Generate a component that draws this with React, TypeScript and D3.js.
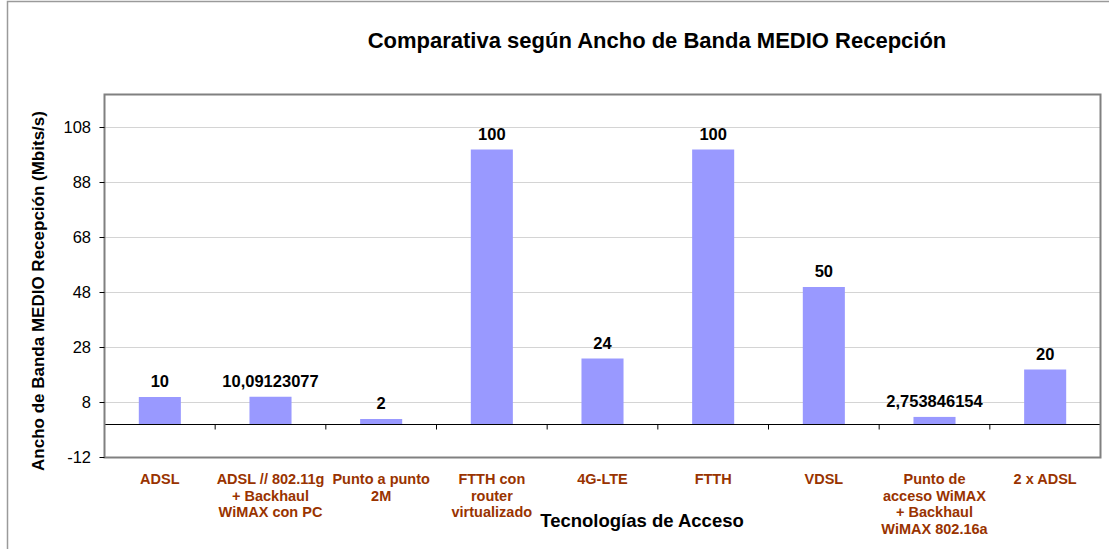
import React from "react";
import * as d3 from "d3";

const categories: string[][] = [
  ["ADSL"],
  ["ADSL // 802.11g", "+ Backhaul", "WiMAX con PC"],
  ["Punto a punto", "2M"],
  ["FTTH con", "router", "virtualizado"],
  ["4G-LTE"],
  ["FTTH"],
  ["VDSL"],
  ["Punto de", "acceso WiMAX", "+ Backhaul", "WiMAX 802.16a"],
  ["2 x ADSL"],
];
const values = [10, 10.09123077, 2, 100, 24, 100, 50, 2.753846154, 20];
const yTicks = [-12, 8, 28, 48, 68, 88, 108];

const title = "Comparativa según Ancho de Banda MEDIO Recepción";
const xTitle = "Tecnologías de Acceso";
const yTitle = "Ancho de Banda MEDIO Recepción (Mbits/s)";

export default function App() {
  const width = 1109;
  const height = 549;
  const plot = { left: 104.5, right: 1100.5, top: 94.5, bottom: 457.5 };
  const font = "'Liberation Sans', Arial, sans-serif";

  const x = d3
    .scaleBand<number>()
    .domain(values.map((_, i) => i))
    .range([plot.left, plot.right]);
  const y = d3.scaleLinear().domain([-12, 120]).range([plot.bottom, plot.top]);
  const barW = x.bandwidth() * 0.38;
  const zero = y(0);

  return (
    <svg
      width={width}
      height={height}
      style={{ position: "absolute", left: 0, top: 0, display: "block" }}
    >
      <rect width={width} height={height} fill="#fff" />
      {/* outer chart frame, only left and top edges show */}
      <path d={`M7.5,${height} V1.5 H${width}`} fill="none" stroke="#9a9a9a" strokeWidth={1.5} />

      <text
        x={657}
        y={48}
        textAnchor="middle"
        fontFamily={font}
        fontWeight="bold"
        fontSize={22}
      >
        {title}
      </text>

      {/* gridlines */}
      {yTicks.map((t) => (
        <line
          key={t}
          x1={plot.left}
          x2={plot.right}
          y1={y(t)}
          y2={y(t)}
          stroke="#d4d4d4"
          strokeWidth={1}
        />
      ))}

      {/* bars */}
      {values.map((v, i) => (
        <rect
          key={i}
          x={x(i)! + (x.bandwidth() - barW) / 2}
          y={y(Math.max(v, 0))}
          width={barW}
          height={Math.abs(y(v) - zero)}
          fill="#9999FF"
        />
      ))}

      {/* value labels */}
      {values.map((v, i) => (
        <text
          key={i}
          x={x(i)! + x.bandwidth() / 2}
          y={y(v) - 10}
          textAnchor="middle"
          fontFamily={font}
          fontWeight="bold"
          fontSize={16.5}
          fill="#000"
        >
          {String(v).replace(".", ",")}
        </text>
      ))}

      {/* zero line and category ticks */}
      <line x1={plot.left} x2={plot.right} y1={zero} y2={zero} stroke="#000" strokeWidth={1.2} />
      {values.map((_, i) =>
        i === 0 ? null : (
          <line
            key={i}
            x1={x(i)!}
            x2={x(i)!}
            y1={zero}
            y2={zero + 5}
            stroke="#000"
            strokeWidth={1}
          />
        )
      )}

      {/* plot frame */}
      <rect
        x={plot.left}
        y={plot.top}
        width={plot.right - plot.left}
        height={plot.bottom - plot.top}
        fill="none"
        stroke="#808080"
        strokeWidth={2}
      />

      {/* y axis ticks and labels */}
      {yTicks.map((t) => (
        <g key={t}>
          <line x1={plot.left - 5} x2={plot.left} y1={y(t)} y2={y(t)} stroke="#000" />
          <text
            x={91}
            y={y(t)}
            dy="0.35em"
            textAnchor="end"
            fontFamily={font}
            fontSize={16.5}
            fill="#000"
          >
            {t}
          </text>
        </g>
      ))}

      {/* category labels */}
      {categories.map((lines, i) => (
        <text
          key={i}
          x={x(i)! + x.bandwidth() / 2}
          y={484}
          textAnchor="middle"
          fontFamily={font}
          fontWeight="bold"
          fontSize={14.5}
          fill="#993300"
        >
          {lines.map((l, j) => (
            <tspan key={j} x={x(i)! + x.bandwidth() / 2} dy={j === 0 ? 0 : 16.7}>
              {l}
            </tspan>
          ))}
        </text>
      ))}

      <text
        x={642}
        y={527}
        textAnchor="middle"
        fontFamily={font}
        fontWeight="bold"
        fontSize={18.5}
      >
        {xTitle}
      </text>

      <text
        transform={`translate(44,${291}) rotate(-90)`}
        textAnchor="middle"
        fontFamily={font}
        fontWeight="bold"
        fontSize={17}
      >
        {yTitle}
      </text>
    </svg>
  );
}
